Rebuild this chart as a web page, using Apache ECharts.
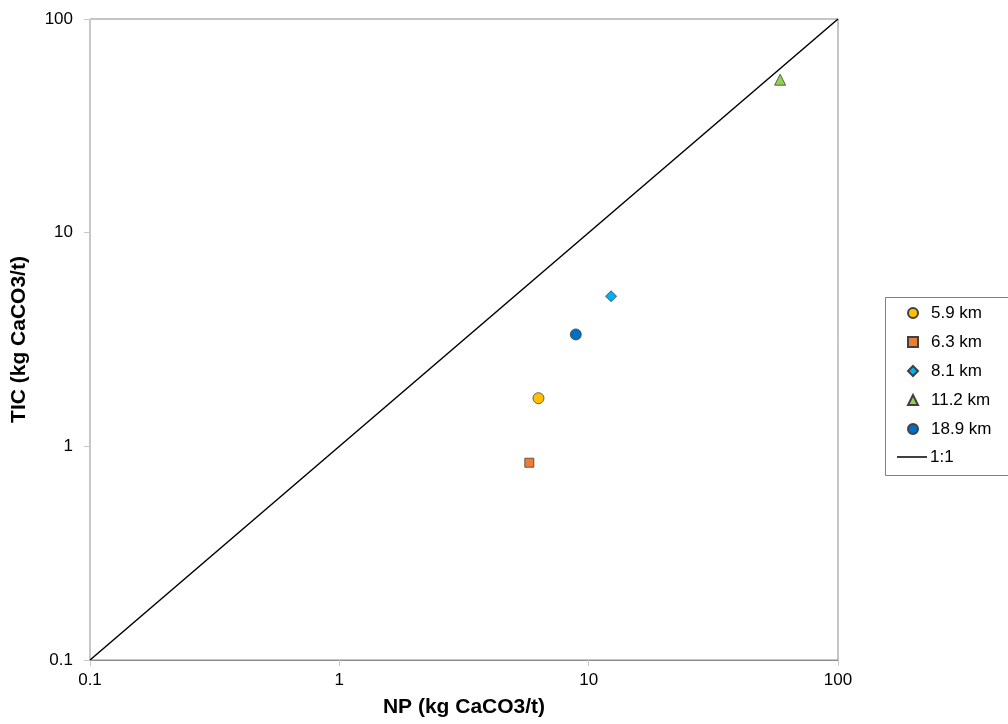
<!DOCTYPE html>
<html>
<head>
<meta charset="utf-8">
<script src="https://cdn.jsdelivr.net/npm/echarts@6/dist/echarts.min.js"></script>
<style>html,body{margin:0;padding:0;background:#fff;}#c{width:1008px;height:724px;}</style>
</head>
<body>
<div id="c"></div>
<script>
// Data (NP, TIC) in kg CaCO3/t
const seriesNames = ['5.9 km', '6.3 km', '8.1 km', '11.2 km', '18.9 km'];
const npValues = [6.29, 5.78, 12.3, 58.6, 8.88];
const ticValues = [1.68, 0.838, 5.04, 52.0, 3.34];
const markerSymbols = ['circle', 'rect', 'diamond', 'triangle', 'circle'];
const markerColors = ['#FFC000', '#ED7D31', '#00B0F0', '#92D050', '#0070C0'];
const oneToOneLine = [[0.1, 0.1], [100, 100]];
const tickLabels = ['0.1', '1', '10', '100'];
const xTitle = 'NP (kg CaCO3/t)';
const yTitle = 'TIC (kg CaCO3/t)';

const FONT = '"Liberation Sans", Arial, sans-serif';
const fmt = function (v) {
  let best = tickLabels[0], d = Infinity;
  tickLabels.forEach(function (t) {
    const dd = Math.abs(Math.log10(parseFloat(t)) - Math.log10(v));
    if (dd < d) { d = dd; best = t; }
  });
  return best;
};

const chart = echarts.init(document.getElementById('c'), null, { renderer: 'canvas' });

const scatterSeries = seriesNames.map(function (n, i) {
  return {
    name: n,
    type: 'scatter',
    symbol: markerSymbols[i],
    symbolSize: markerSymbols[i] === 'rect' ? 9 : 11,
    data: [[npValues[i], ticValues[i]]],
    itemStyle: { color: markerColors[i], borderColor: '#404040', borderWidth: 0.8, opacity: 1 },
    z: 3
  };
});

const axisCommon = {
  type: 'log',
  logBase: 10,
  min: 0.1,
  max: 100,
  splitLine: { show: false },
  minorTick: { show: false },
  axisTick: { show: true, inside: false, length: 6, lineStyle: { color: '#c8c8c8', width: 1 } },
  axisLabel: { formatter: fmt, color: '#000', fontFamily: FONT, fontSize: 17 },
  nameLocation: 'middle',
  nameTextStyle: { color: '#000', fontFamily: FONT, fontSize: 21, fontWeight: 'bold' }
};

const option = {
  animation: false,
  backgroundColor: '#fff',
  grid: { left: 90, right: 170, top: 19, bottom: 64, show: true, borderColor: '#8c8c8c', borderWidth: 1, backgroundColor: 'transparent' },
  xAxis: Object.assign({}, axisCommon, {
    name: xTitle,
    nameGap: 37,
    axisLine: { show: true, lineStyle: { color: '#8c8c8c', width: 1 } },
    axisLabel: Object.assign({}, axisCommon.axisLabel, { margin: 12 })
  }),
  yAxis: Object.assign({}, axisCommon, {
    name: yTitle,
    nameGap: 60,
    axisLine: { show: true, lineStyle: { color: '#c8c8c8', width: 1 } },
    axisLabel: Object.assign({}, axisCommon.axisLabel, { margin: 17 })
  }),
  legend: [
    {
      data: seriesNames,
      orient: 'vertical',
      left: 907,
      top: 304,
      padding: 0,
      itemWidth: 10,
      itemHeight: 10,
      itemGap: 11,
      textStyle: { color: '#000', fontFamily: FONT, fontSize: 17, lineHeight: 18, padding: [0, 0, 0, 8] }
    },
    {
      data: [{ name: '1:1', icon: 'rect' }],
      orient: 'vertical',
      left: 897,
      top: 448,
      padding: 0,
      itemWidth: 30,
      itemHeight: 1.5,
      itemStyle: { color: '#000', borderWidth: 0 },
      textStyle: { color: '#000', fontFamily: FONT, fontSize: 17, lineHeight: 18, padding: [0, 0, 0, -2] }
    }
  ],
  graphic: [{
    type: 'rect',
    left: 883,
    top: 295,
    shape: { width: 123, height: 178 },
    style: { fill: 'none', stroke: '#808080', lineWidth: 1 },
    silent: true
  }],
  series: [{
    name: '1:1',
    type: 'line',
    data: oneToOneLine,
    symbol: 'none',
    lineStyle: { color: '#000', width: 1.5 },
    itemStyle: { color: '#000' },
    z: 2
  }].concat(scatterSeries)
};
chart.setOption(option);
</script>
</body>
</html>
